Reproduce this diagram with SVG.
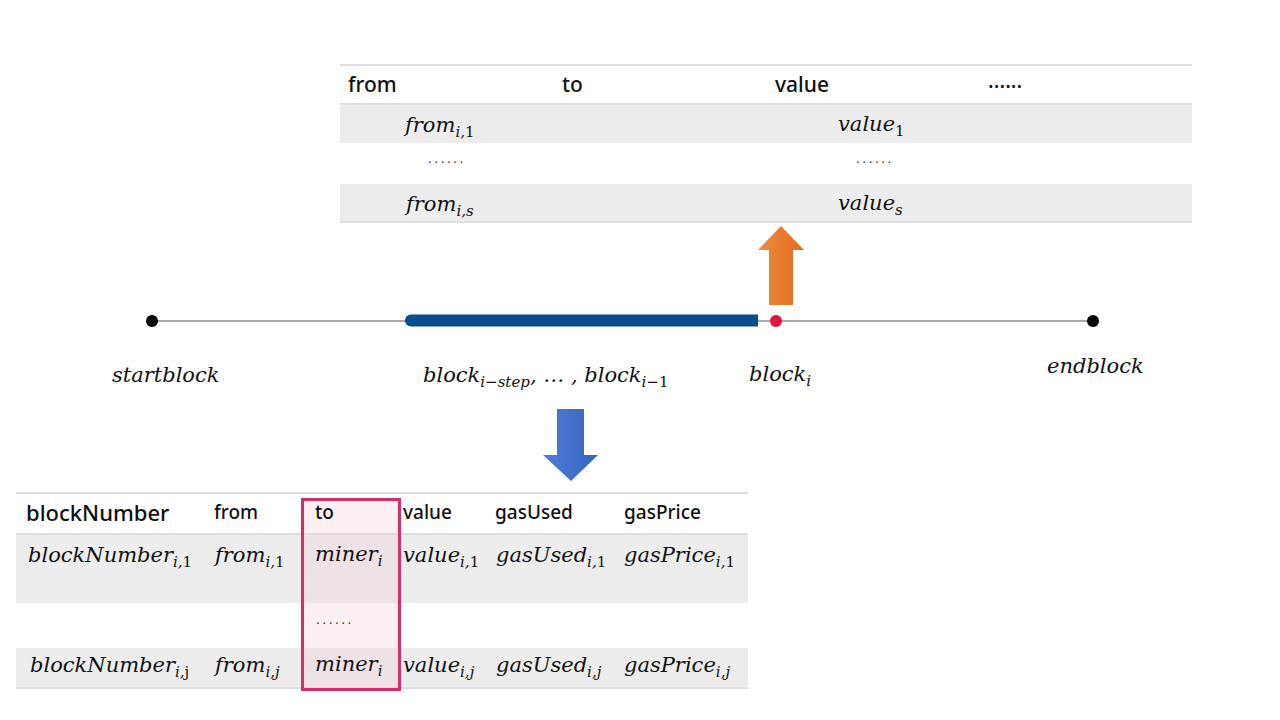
<svg xmlns="http://www.w3.org/2000/svg" width="1280" height="720" viewBox="0 0 1280 720">
<style>
.hdr{font-family:"Noto Sans","Liberation Sans",sans-serif;font-weight:500;fill:#111}
.m{font-family:"DejaVu Serif","Liberation Serif",serif;font-style:italic;font-size:21px;fill:#111}
.s{font-size:15px}
.u{font-style:normal}
.dots{font-family:"DejaVu Serif",serif;font-size:12px;letter-spacing:2.5px;fill:#333}
.rule{stroke:#BDBDBD;stroke-width:1.2}
.grey{fill:#EDEDED}
</style>
<defs>
<linearGradient id="og" x1="0" y1="0" x2="1" y2="0">
<stop offset="0" stop-color="#F08A3C"/><stop offset="1" stop-color="#E06F1F"/>
</linearGradient>
<linearGradient id="bg" x1="0" y1="0" x2="1" y2="0">
<stop offset="0" stop-color="#4F7FD8"/><stop offset="1" stop-color="#3562BD"/>
</linearGradient>
</defs>
<rect width="1280" height="720" fill="#FFFFFF"/>

<g id="top-table">
<rect class="grey" x="340" y="105" width="852" height="38"/>
<rect class="grey" x="340" y="184" width="852" height="37"/>
<line class="rule" x1="340" y1="65" x2="1192" y2="65"/>
<line class="rule" x1="340" y1="104" x2="1192" y2="104"/>
<line class="rule" x1="340" y1="222" x2="1192" y2="222"/>
<text class="hdr" font-size="21" x="348" y="92">from</text>
<text class="hdr" font-size="21" x="562" y="92">to</text>
<text class="hdr" font-size="21" x="775" y="92">value</text>
<text class="hdr" font-size="21" x="988" y="88">......</text>
<text class="m" x="405" y="132">from<tspan class="s" dy="5">i,</tspan><tspan class="s u">1</tspan></text>
<text class="m" x="838" y="131">value<tspan class="s u" dy="5">1</tspan></text>
<text class="dots" x="428" y="163">......</text>
<text class="dots" x="856" y="163">......</text>
<text class="m" x="406" y="211">from<tspan class="s" dy="5">i,s</tspan></text>
<text class="m" x="838" y="210">value<tspan class="s" dy="5">s</tspan></text>
</g>

<g id="up-arrow">
<polygon points="781,226 804,250 793,250 793,305 769,305 769,250 758,250" fill="url(#og)"/>
</g>

<g id="timeline">
<line x1="152" y1="321" x2="1093" y2="321" stroke="#555" stroke-width="1.2"/>
<circle cx="152" cy="321" r="6" fill="#000"/>
<circle cx="1093" cy="321" r="6" fill="#000"/>
<path d="M411,314.5 H758 V326.5 H411 A6,6 0 0 1 411,314.5 Z" fill="#0B4C8C"/>
<circle cx="776" cy="321" r="6" fill="#E0143C"/>
</g>

<g id="labels">
<text class="m" x="112" y="382">startblock</text>
<text class="m" x="423" y="382">block<tspan class="s" dy="5">i−step</tspan><tspan dy="-5">, … , block</tspan><tspan class="s" dy="5">i−</tspan><tspan class="s u">1</tspan></text>
<text class="m" x="749" y="381">block<tspan class="s" dy="5">i</tspan></text>
<text class="m" x="1047" y="373">endblock</text>
</g>

<g id="down-arrow">
<polygon points="557,409 584,409 584,455 598,455 571,481 543,455 557,455" fill="url(#bg)"/>
</g>

<g id="bottom-table">
<rect class="grey" x="16" y="535" width="732" height="68"/>
<rect class="grey" x="16" y="648" width="732" height="39"/>
<line class="rule" x1="16" y1="493" x2="748" y2="493"/>
<line class="rule" x1="16" y1="534" x2="748" y2="534"/>
<line class="rule" x1="16" y1="688" x2="748" y2="688"/>
<rect x="302.5" y="499.5" width="97" height="190" fill="#F4C9D6" fill-opacity="0.3"/>
<text class="hdr" font-size="22" x="26" y="521">blockNumber</text>
<text class="hdr" font-size="19" x="214" y="519">from</text>
<text class="hdr" font-size="19" x="315" y="519">to</text>
<text class="hdr" font-size="19" x="403" y="519">value</text>
<text class="hdr" font-size="19" x="495" y="519">gasUsed</text>
<text class="hdr" font-size="19" x="624" y="519">gasPrice</text>
<text class="m" x="28" y="562">blockNumber<tspan class="s" dy="5">i,</tspan><tspan class="s u">1</tspan></text>
<text class="m" x="215" y="562">from<tspan class="s" dy="5">i,</tspan><tspan class="s u">1</tspan></text>
<text class="m" x="315" y="561">miner<tspan class="s" dy="5">i</tspan></text>
<text class="m" x="403" y="562">value<tspan class="s" dy="5">i,</tspan><tspan class="s u">1</tspan></text>
<text class="m" x="496" y="562">gasUsed<tspan class="s" dy="5">i,</tspan><tspan class="s u">1</tspan></text>
<text class="m" x="624" y="562">gasPrice<tspan class="s" dy="5">i,</tspan><tspan class="s u">1</tspan></text>
<text class="dots" x="316" y="624">......</text>
<text class="m" x="30" y="672">blockNumber<tspan class="s" dy="5">i,</tspan><tspan class="s u">j</tspan></text>
<text class="m" x="215" y="672">from<tspan class="s" dy="5">i,j</tspan></text>
<text class="m" x="315" y="671">miner<tspan class="s" dy="5">i</tspan></text>
<text class="m" x="403" y="672">value<tspan class="s" dy="5">i,j</tspan></text>
<text class="m" x="496" y="672">gasUsed<tspan class="s" dy="5">i,j</tspan></text>
<text class="m" x="624" y="672">gasPrice<tspan class="s" dy="5">i,j</tspan></text>
</g>

<g id="highlight">
<rect x="302.5" y="499.5" width="97" height="190" fill="none" stroke="#D42F6A" stroke-width="3"/>
</g>
</svg>
